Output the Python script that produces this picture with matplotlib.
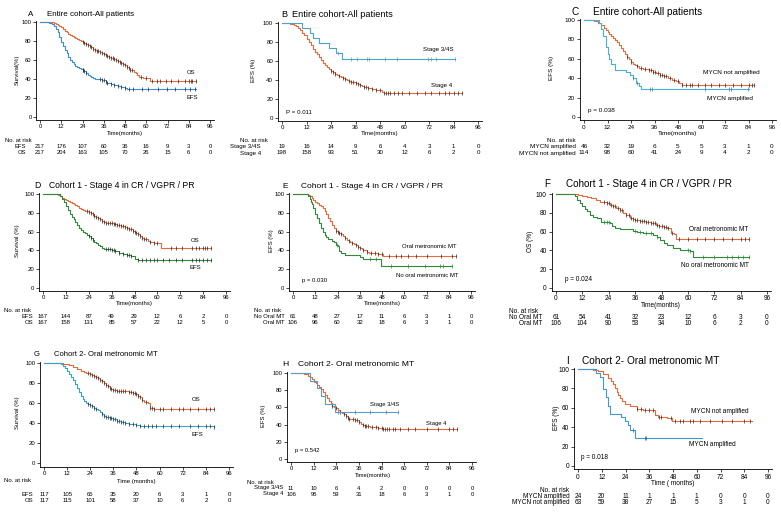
import matplotlib
matplotlib.use("Agg")
import matplotlib.pyplot as plt
from matplotlib import transforms

plt.rcParams['font.family'] = ['Liberation Sans', 'DejaVu Sans']

W, H = 781, 513
ORANGE = "#E66A3C"
DARK = "#2a2a2a"

month_ticks = [0, 12, 24, 36, 48, 60, 72, 84, 96]
pct_ticks = [0, 20, 40, 60, 80, 100]

# ---------------------------------------
# Data (step times in months, survival in %)
# ---------------------------------------

# A - Entire cohort, OS / EFS
a_os_t = [8, 9, 10, 11, 12, 13, 14, 15, 16, 17, 18, 19, 20, 21, 22, 23, 24, 25, 26, 27, 28, 29, 30,
          31, 32, 33, 34, 35, 36, 37, 38, 39, 40, 42, 43, 44, 45, 46, 47, 48, 49, 50, 51, 52, 53,
          54, 55, 56, 58, 62, 88]
a_os_s = [99, 98, 97, 96, 95, 93, 91, 89, 87, 86, 85, 84, 83, 82, 81, 80, 79, 78, 77, 76, 75, 74, 72,
          71, 70, 69, 68, 67, 66, 65, 64, 63, 62, 61, 60, 59, 58, 57, 56, 55, 53, 52, 50, 49, 47,
          46, 44, 42, 41, 38, 38]
a_os_c = [24, 25, 26, 27, 28, 29, 30, 31, 32, 33, 34, 35, 36, 37, 38, 39, 40, 41, 42, 43, 44, 45,
          46, 47, 48, 49, 50, 51, 52, 57, 60, 63, 66, 68, 71, 74, 78, 82, 84, 85, 86, 88]
a_efs_t = [5, 7, 8, 9, 10, 11, 12, 13, 14, 15, 16, 17, 18, 19, 20, 21, 22, 23, 24, 25, 26, 27, 28,
           29, 30, 31, 33, 35, 36, 37, 38, 40, 42, 44, 46, 48, 49, 88]
a_efs_s = [99, 98, 96, 93, 89, 84, 79, 75, 71, 67, 63, 60, 58, 56, 54, 53, 52, 51, 50, 48, 46, 44, 43,
           42, 41, 40, 39.5, 39, 38.5, 37, 36, 35, 34, 33, 32, 30.5, 29.5, 29.5]
a_efs_c = [24, 24.5, 25, 26, 34, 35, 36, 37, 38, 40, 42, 44, 46, 48, 50, 52.7, 57.4, 61.2, 66.9,
           71.6, 76.3, 81.9, 84.7, 87.6]
a_efs_risk = [217, 176, 107, 60, 36, 16, 9, 3, 0]
a_os_risk = [217, 204, 163, 105, 70, 26, 15, 6, 0]

# B - Entire cohort, EFS by stage
b_s3_t = [10, 13.5, 15, 18, 23, 26.5, 29.5, 84.6]
b_s3_s = [95, 89, 84, 79, 74, 68, 62, 62]
b_s3_c = [27.3, 33.7, 36.6, 41.5, 42.8, 50.4, 56.5, 71.3, 72.9, 75.2, 84.6]
b_s4_t = [4, 6, 7, 8, 9, 10, 11, 12, 13, 14, 15, 16, 17, 18, 19, 20, 21, 22, 23, 24, 25, 26, 27, 28,
          29, 30, 31, 32, 33, 34, 35, 36, 37, 38, 39, 40, 42, 44, 46, 48, 49, 50, 88]
b_s4_s = [99, 98, 97, 95, 93, 90, 87, 83, 80, 77, 73, 70, 67, 64, 61, 58, 56, 54, 52, 50, 48, 46, 45,
          44, 43, 42, 41, 40, 39, 38, 37.5, 37, 36, 35, 34, 33, 32, 31, 30, 29, 27, 26.5, 26.5]
b_s4_c = [24, 25, 26, 28, 30, 31, 33, 34, 35, 36, 37, 38, 40, 41, 42, 44, 46, 48, 50, 51, 52, 53, 55,
          57, 59, 62, 66, 70, 73, 77, 80, 82, 84, 86, 88]
b_s3_risk = [19, 16, 14, 9, 6, 4, 3, 1, 0]
b_s4_risk = [198, 158, 93, 51, 30, 12, 6, 2, 0]

# C - Entire cohort, EFS by MYCN
c_amp_t = [7.5, 8.8, 9.7, 11, 12.3, 13, 14, 15.7, 21.6, 23.3, 25, 26.7, 28, 29, 84]
c_amp_s = [97, 91, 84, 72, 65, 60, 55, 48, 46, 43.5, 40, 35, 31.5, 29, 29]
c_amp_c = [25, 27, 33.5, 34.9, 61.6, 73.9, 74.9, 83.7]
c_non_t = [3, 5, 7, 8.5, 10, 11, 12, 13, 14, 15, 16, 17, 18, 19, 20, 21, 22, 23, 24, 25, 26, 27, 28,
           30, 31, 33, 35, 37, 39, 41, 43, 45, 47, 48.5, 50, 87]
c_non_s = [99.5, 99, 97, 95, 92, 90, 88, 86, 83, 81, 79, 77, 74, 71, 68, 65, 62, 60, 57, 55, 54, 53,
           51, 50, 49, 48, 46.5, 45, 43, 42, 40, 38.5, 37, 35, 33.5, 33.5]
c_non_c = [22, 24, 27, 29, 31, 33, 34, 35, 36, 38, 39, 40, 41, 42, 44, 46, 48, 50, 52, 54, 55, 58, 62,
           65, 69, 72, 76, 80, 84, 86, 87]
c_amp_risk = [46, 32, 19, 6, 5, 5, 3, 1, 0]
c_non_risk = [114, 98, 60, 41, 24, 9, 4, 2, 0]

# D - Cohort 1, OS / EFS
d_os_t = [8, 9, 10, 11, 12, 13, 14, 15, 16, 17, 18, 19, 20, 21, 22, 24, 25, 26, 27, 28, 29, 30, 31,
          32, 33, 35, 37, 39, 41, 43, 44, 45, 47, 48, 49, 50, 51, 52, 53, 55, 56, 58, 62, 88]
d_os_s = [99, 98, 96, 95, 94, 93, 92, 90, 89, 88, 87, 85, 84, 83, 82, 81, 80, 79, 77, 76, 75, 73, 71,
          70, 69.5, 69, 68, 67, 66, 65, 64, 63, 61, 60, 58, 57, 55, 53, 52, 50, 49, 47.5, 42.5, 42.5]
d_os_c = [23, 24, 25, 26, 27, 28, 29, 30, 31, 32, 33, 34, 35, 36, 37, 38, 39, 40, 41, 42, 43, 44, 45,
          46, 47, 48, 49, 50, 51, 52, 53, 54, 56, 58, 60, 67, 70, 73, 78, 80, 82, 84, 85, 86, 88]
d_efs_t = [9, 10, 11, 12, 13, 14, 15, 16, 17, 18, 19, 20, 21, 22, 23, 24, 25, 26, 27, 28, 29, 30, 31,
           32, 34, 36, 38, 40, 42, 44, 46, 48, 50, 88]
d_efs_s = [98, 95, 91, 87, 83, 79, 76, 73, 70, 67, 64, 62, 60, 58, 56, 55, 53, 51, 49, 47.5, 46, 44.5,
           43, 42, 41.5, 40.5, 39, 37, 36, 35, 34.5, 31, 30, 30]
d_efs_c = [24, 25, 26, 33, 34, 35, 36, 37, 38, 40, 42, 44, 45, 46, 50, 52, 54, 56, 58, 60, 63, 66, 70,
           73, 78, 80, 82, 84, 86, 88]
d_efs_risk = [167, 144, 87, 49, 29, 12, 6, 2, 0]
d_os_risk = [167, 158, 131, 85, 57, 22, 12, 5, 0]

# E - Cohort 1, EFS by oral metronomic MT
e_mt_t = [8, 9, 10, 11, 12, 13, 14, 15, 16, 17, 18, 19, 20, 21, 22, 23, 24, 25, 26, 27, 28, 29, 30,
          31, 32, 33, 34, 35, 36, 37, 38, 40, 41, 46, 48.5, 88]
e_mt_s = [99, 98, 96, 94, 92, 90, 88, 87, 85, 82, 79, 75, 71, 67, 64, 61, 60, 58, 57, 55, 53, 51, 50,
          49, 48, 47, 46, 44, 43, 41.5, 40, 38, 37, 36.5, 34, 34]
e_mt_c = [23, 24, 25, 26, 28, 30, 32, 34, 35, 36, 38, 40, 42, 44, 46, 48, 52, 55.8, 58.5, 62.1, 66.6,
          72, 80, 86, 88]
e_no_t = [8, 9, 9.5, 10, 11, 12, 13, 14, 15, 16, 17, 18, 19, 21, 22, 23, 24, 25, 26, 28, 34, 36, 38,
          47.7, 85.6]
e_no_s = [98, 95, 92, 89, 85, 79, 74, 69, 64, 60, 56, 54, 52, 50, 48.5, 46, 44.5, 39, 37, 35.5, 35,
          33, 31, 23, 23]
e_no_c = [23.8, 41.4, 45, 52.8, 62, 71.1, 79.3, 81, 85.6]
e_no_risk = [61, 48, 27, 17, 11, 6, 3, 1, 0]
e_mt_risk = [106, 96, 60, 32, 18, 6, 3, 1, 0]

# F - Cohort 1, OS by oral metronomic MT
f_mt_t = [10, 12, 14, 16, 18, 20, 21.5, 23, 24.5, 26, 27.5, 29, 30.5, 32, 33.5, 35, 36, 38, 41, 43,
          45.5, 47, 49, 50.5, 52.5, 53.5, 54.8, 88]
f_mt_s = [99, 98, 97, 96, 94, 92, 91, 90, 88, 87, 85, 83, 80, 78, 75, 73, 72, 71.5, 70, 69, 67, 66,
          65, 64, 59, 57, 52, 52]
f_mt_c = [22, 23, 24, 25, 26, 27, 28, 29, 30, 32, 33, 34, 35, 36, 37, 38, 39, 40, 41, 42, 43, 44, 45,
          46, 47, 48, 49, 50, 51, 53, 56, 60, 64, 68, 72, 76, 80, 84, 86, 88]
f_no_t = [8.6, 9.4, 10.9, 12, 13.2, 14, 15.4, 17, 18.5, 20.7, 24.5, 25.5, 26.8, 29, 35, 37, 39.7, 42,
          44.2, 46, 47.3, 49, 50.3, 53.3, 56.3, 60.9, 62.4, 88]
f_no_s = [98, 94, 90, 87, 84, 82, 78, 76, 74, 70, 69, 66, 64, 63, 61, 60, 59, 58, 56, 54, 51, 48,
          45.5, 43, 40, 39, 33, 33]
f_no_c = [22, 23, 24, 36, 38, 41, 43, 46, 60, 61, 67, 72, 78, 80, 83, 85, 88]
f_no_risk = [61, 54, 41, 32, 23, 12, 6, 3, 0]
f_mt_risk = [106, 104, 90, 53, 34, 10, 6, 2, 0]

# G - Cohort 2, OS / EFS
g_os_t = [10, 12, 13, 15, 17, 19, 21, 22, 24, 25, 26, 27, 28, 29, 30, 31, 32, 33, 34, 35, 36, 38, 42,
          44, 46, 48, 49, 50, 51, 52, 54, 55, 57, 88]
g_os_s = [99.5, 99, 98, 96, 94, 92, 91, 90, 89, 88, 87, 86, 85, 83, 82, 80, 78, 77, 75, 74, 73, 72.5,
          72, 71, 70, 69, 67, 66, 63, 61, 60, 55, 54, 54]
g_os_c = [23, 24, 25, 26, 27, 28, 29, 30, 31, 32, 33, 34, 35, 36, 37, 38, 39, 40, 41, 42, 44, 45, 46,
          47, 48, 49, 50, 51, 53, 55, 56, 57, 60, 62, 66, 70, 72, 76, 80, 84, 86, 88]
g_efs_t = [9, 10, 11, 12, 13, 14, 15, 16, 17, 18, 19, 20, 21, 22, 23, 24, 25, 26, 27, 28, 29, 30, 31,
           32, 34, 36, 38, 40, 42, 44, 46, 48, 50, 88]
g_efs_s = [99, 97, 95, 92, 89, 86, 83, 79, 75, 71, 67, 64, 62, 60.5, 59, 58, 57, 55, 54, 53, 51, 49,
           47.5, 46.5, 45.5, 44, 42.5, 41, 40, 39.5, 39, 38, 37, 36.5]
g_efs_c = [23, 24, 25, 26, 27, 30, 31, 32, 33, 34, 35, 36, 37, 38, 39, 40, 41, 42, 44, 46, 48, 50, 52,
           54, 56, 58, 62, 66, 70, 76, 80, 84, 86, 88]
g_efs_risk = [117, 105, 65, 35, 20, 6, 3, 1, 0]
g_os_risk = [117, 115, 101, 58, 37, 10, 6, 2, 0]

# H - Cohort 2, EFS by stage
h_s3_t = [10.2, 13.8, 16, 18.2, 23.5, 56.6]
h_s3_s = [91, 82, 73, 64, 54.5, 54.5]
h_s3_c = [25, 33.7, 42, 50.5, 56.6]
h_s4_t = [7, 9, 10, 11, 12, 13, 14, 15, 16, 17, 18, 19, 20, 21, 22, 23, 24, 25, 26, 27, 28, 29, 30,
          31, 32, 34, 35, 36, 37, 38, 39, 40, 42, 46, 49, 88]
h_s4_s = [99, 97, 95, 93, 90, 88, 86, 84, 81, 78, 74, 71, 68, 65, 62, 60, 59, 57, 55, 53, 52, 50, 48,
          47, 46.5, 45.5, 45, 43, 41, 40, 38.5, 38, 37, 36.5, 35, 35]
h_s4_c = [22, 24, 26, 28, 29, 30, 31, 33, 34, 35, 36, 38, 39, 40, 41, 43, 45, 46, 48, 49, 50, 51, 52,
          54, 55, 58, 62, 66, 72, 78, 84, 86, 88]
h_s3_risk = [11, 10, 6, 4, 2, 0, 0, 0, 0]
h_s4_risk = [106, 95, 59, 31, 18, 6, 3, 1, 0]

# I - Cohort 2, EFS by MYCN
i_amp_t = [9.3, 11, 12.7, 14, 15.2, 16, 21.5, 23.7, 25.4, 26.2, 28.7, 62.5]
i_amp_s = [96, 92, 79, 71, 62, 54, 50, 46, 42, 37.5, 29, 29]
i_amp_c = [27.9, 33.8, 34.3]
i_non_t = [7.6, 10.1, 12.7, 15.2, 16.9, 17.5, 18.6, 19.5, 20.3, 21, 22, 23.7, 26.2, 29.6, 33, 38.9,
           40.6, 44.8, 47.3, 88]
i_non_s = [99, 98, 95, 91, 88, 85, 80, 76, 73, 70, 67, 64, 62, 59, 58, 53, 50, 49, 46.5, 46.5]
i_non_c = [30, 32, 34, 36, 38, 41, 42, 47, 49, 51.5, 53, 56.6, 58, 61.7, 66.8, 72.7, 77.7, 83.7, 87]
i_amp_risk = [24, 20, 11, 1, 1, 1, 0, 0, 0]
i_non_risk = [63, 59, 38, 27, 15, 5, 3, 1, 0]

# ---------------------------------------
# Helpers
# ---------------------------------------

fig = plt.figure(figsize=(W / 100, H / 100), dpi=100)
fig.patch.set_facecolor("white")

XMIN, XMAX = -2, 98
YMIN, YMAX = -3.5, 101


def fx(x):
    return x / W


def fy(y):
    return 1 - y / H


def step_at(times, surv, t):
    val = 100
    for tt, ss in zip(times, surv):
        if tt <= t:
            val = ss
    return val


def make_ax(x0, x96, y100, y0, fs):
    sx = (x96 - x0) / 96
    sy = (y0 - y100) / 100
    left = x0 + XMIN * sx
    right = x0 + XMAX * sx
    top = y100 - (YMAX - 100) * sy
    bottom = y0 - YMIN * sy
    ax = fig.add_axes([fx(left), fy(bottom), (right - left) / W, (bottom - top) / H])
    ax.set_xlim(XMIN, XMAX)
    ax.set_ylim(YMIN, YMAX)
    ax.spines["top"].set_visible(False)
    ax.spines["right"].set_visible(False)
    ax.spines["left"].set_linewidth(0.6)
    ax.spines["bottom"].set_linewidth(0.6)
    ax.set_xticks(month_ticks)
    ax.set_yticks(pct_ticks)
    ax.tick_params(length=2, width=0.5, pad=1.5, labelsize=fs, direction="out")
    ax.tick_params(axis="x", pad=1.0)
    ax.patch.set_alpha(0)
    return ax


def curve(ax, times, surv, color, cens, ccolor):
    ax.step([0] + times, [100] + surv, where="post", color=color, lw=0.8, clip_on=False)
    cy = [step_at(times, surv, c) for c in cens]
    ax.plot(cens, cy, ls="none", marker="|", ms=2.6, mew=0.5, color=ccolor, clip_on=False)


def risk_table(ax, head, head_x, head_ha, head_y, lab_x, rows, fs):
    fig.text(fx(head_x), fy(head_y), head, ha=head_ha, va="center", fontsize=fs)
    tr = transforms.blended_transform_factory(ax.transData, fig.transFigure)
    for label, nums, y in rows:
        fig.text(fx(lab_x), fy(y), label, ha="right", va="center", fontsize=fs)
        for t, n in zip(month_ticks, nums):
            ax.text(t, fy(y), str(n), transform=tr, ha="center", va="center", fontsize=fs)


def header(letter, lx, tx, y, ts, title):
    fig.text(fx(lx), fy(y), letter, ha="left", va="center", fontsize=ts)
    fig.text(fx(tx), fy(y), title, ha="left", va="center", fontsize=ts)


def axis_titles(ylab, ylx, yly, xlab, xlx, xly, fs):
    fig.text(fx(ylx), fy(yly), ylab, rotation=90, ha="center", va="center", fontsize=fs)
    fig.text(fx(xlx), fy(xly), xlab, ha="center", va="center", fontsize=fs)


# ---------------------------------------
# Panel A
# ---------------------------------------
fs = 4.2
ax = make_ax(40, 210, 22, 117, fs)
curve(ax, a_os_t, a_os_s, ORANGE, a_os_c, DARK)
curve(ax, a_efs_t, a_efs_s, "#3A8FD8", a_efs_c, DARK)
ax.text(85.3, 46.8, "OS", ha="center", va="center", fontsize=fs)
ax.text(85.7, 20.4, "EFS", ha="center", va="center", fontsize=fs)
header("A", 28, 47, 14, 5.8, "Entire cohort-All patients")
axis_titles("Survival(%)", 17, 70, "Time(months)", 125, 133, fs)
risk_table(ax, "No. at risk", 5, "left", 141, 26,
           [("EFS", a_efs_risk, 146.5), ("OS", a_os_risk, 152.5)], fs)

# ---------------------------------------
# Panel B
# ---------------------------------------
fs = 4.4
ax = make_ax(282, 478, 23, 118, fs)
curve(ax, b_s4_t, b_s4_s, ORANGE, b_s4_c, DARK)
curve(ax, b_s3_t, b_s3_s, "#4BA3C8", b_s3_c, "#4BA3C8")
ax.text(76.8, 71.8, "Stage 3/4S", ha="center", va="center", fontsize=fs)
ax.text(78.1, 34.5, "Stage 4", ha="center", va="center", fontsize=fs)
ax.text(2.1, 5.6, "P = 0.011", ha="left", va="center", fontsize=fs)
header("B", 281, 292, 15, 6.6, "Entire cohort-All patients")
axis_titles("EFS (%)", 253, 70, "Time(months)", 380, 134, fs)
risk_table(ax, "No. at risk", 240, "left", 141, 261,
           [("Stage 3/4S", b_s3_risk, 147), ("Stage 4", b_s4_risk, 153)], fs)

# ---------------------------------------
# Panel C
# ---------------------------------------
fs = 4.6
ax = make_ax(584, 772, 20, 117, fs)
curve(ax, c_non_t, c_non_s, ORANGE, c_non_c, DARK)
curve(ax, c_amp_t, c_amp_s, "#4AAEDC", c_amp_c, "#3a7fa8")
ax.text(75.1, 45.7, "MYCN not amplified", ha="center", va="center", fontsize=fs)
ax.text(74.6, 19.2, "MYCN amplified", ha="center", va="center", fontsize=fs)
ax.text(2.0, 6.2, "p = 0.038", ha="left", va="center", fontsize=fs)
header("C", 571, 593, 12, 7.2, "Entire cohort-All patients")
axis_titles("EFS (%)", 552, 68, "Time(months)", 678, 133.5, fs)
risk_table(ax, "No. at risk", 576, "right", 141, 576,
           [("MYCN amplified", c_amp_risk, 147), ("MYCN not amplified", c_non_risk, 153)], fs)

# ---------------------------------------
# Panel D
# ---------------------------------------
fs = 4.3
ax = make_ax(43, 226, 194, 288, fs)
curve(ax, d_os_t, d_os_s, ORANGE, d_os_c, DARK)
curve(ax, d_efs_t, d_efs_s, "#2F8A3C", d_efs_c, DARK)
ax.text(79.9, 50.4, "OS", ha="center", va="center", fontsize=fs)
ax.text(79.7, 22.3, "EFS", ha="center", va="center", fontsize=fs)
header("D", 34, 49, 185, 6.2, "Cohort 1 - Stage 4 in CR / VGPR / PR")
axis_titles("Survival (%)", 17, 241, "Time(months)", 134, 304, fs)
risk_table(ax, "No. at risk", 4, "left", 311, 33,
           [("EFS", d_efs_risk, 317), ("OS", d_os_risk, 323)], fs)

# ---------------------------------------
# Panel E
# ---------------------------------------
fs = 4.3
ax = make_ax(293, 471, 194, 288, fs)
curve(ax, e_mt_t, e_mt_s, ORANGE, e_mt_c, DARK)
curve(ax, e_no_t, e_no_s, "#2F8A3C", e_no_c, "#2F8A3C")
ax.text(73.7, 44, "Oral metronomic MT", ha="center", va="center", fontsize=fs)
ax.text(72.4, 13.8, "No oral metronomic MT", ha="center", va="center", fontsize=fs)
ax.text(5.0, 8.5, "p = 0.030", ha="left", va="center", fontsize=fs)
header("E", 282, 301, 186, 6.0, "Cohort 1 - Stage 4 in CR / VGPR / PR")
axis_titles("EFS (%)", 271, 241, "Time(months)", 382, 304, fs)
risk_table(ax, "No. at risk", 254, "left", 311, 285,
           [("No Oral MT", e_no_risk, 317), ("Oral MT", e_mt_risk, 323)], fs)

# ---------------------------------------
# Panel F
# ---------------------------------------
fs = 4.7
ax = make_ax(556, 767, 194, 288, fs)
curve(ax, f_mt_t, f_mt_s, ORANGE, f_mt_c, DARK)
curve(ax, f_no_t, f_no_s, "#2F8A3C", f_no_c, "#2F8A3C")
ax.text(74.1, 61.8, "Oral metronomic MT", ha="center", va="center", fontsize=fs)
ax.text(72.1, 24.4, "No oral metronomic MT", ha="center", va="center", fontsize=fs)
ax.text(4.1, 9.5, "p = 0.024", ha="left", va="center", fontsize=fs)
header("F", 544, 566, 184, 7.1, "Cohort 1 - Stage 4 in CR / VGPR / PR")
axis_titles("OS (%)", 531, 241, "Time(months)", 661, 305.5, fs)
risk_table(ax, "No. at risk", 509, "left", 311.5, 542,
           [("No Oral MT", f_no_risk, 317.5), ("Oral MT", f_mt_risk, 323.5)], fs)

# ---------------------------------------
# Panel G
# ---------------------------------------
fs = 4.3
ax = make_ax(44, 229, 363, 463, fs)
curve(ax, g_os_t, g_os_s, ORANGE, g_os_c, DARK)
curve(ax, g_efs_t, g_efs_s, "#35A2CF", g_efs_c, DARK)
ax.text(78.7, 63.6, "OS", ha="center", va="center", fontsize=fs)
ax.text(79.4, 28.1, "EFS", ha="center", va="center", fontsize=fs)
header("G", 34, 54, 354, 5.5, "Cohort 2- Oral metronomic MT")
axis_titles("Survival (%)", 17, 413, "Time (months)", 136, 481, fs)
risk_table(ax, "No. at risk", 4, "left", 481, 33,
           [("EFS", g_efs_risk, 495), ("OS", g_os_risk, 501)], fs)

# ---------------------------------------
# Panel H
# ---------------------------------------
fs = 4.2
ax = make_ax(291, 472, 373, 459, fs)
curve(ax, h_s4_t, h_s4_s, ORANGE, h_s4_c, DARK)
curve(ax, h_s3_t, h_s3_s, "#5A9EC4", h_s3_c, "#5A7E94")
ax.text(49.4, 63.6, "Stage 3/4S", ha="center", va="center", fontsize=fs)
ax.text(77, 41, "Stage 4", ha="center", va="center", fontsize=fs)
ax.text(2.3, 10.1, "p = 0.542", ha="left", va="center", fontsize=fs)
header("H", 282, 298, 364, 6.1, "Cohort 2- Oral metronomic MT")
axis_titles("EFS (%)", 264, 416, "Time(months)", 373, 476, fs)
risk_table(ax, "No. at risk", 247, "left", 482, 283,
           [("Stage 3/4S", h_s3_risk, 488), ("Stage 4", h_s4_risk, 494)], fs)

# ---------------------------------------
# Panel I
# ---------------------------------------
fs = 4.7
ax = make_ax(578, 768, 369, 466, fs)
curve(ax, i_non_t, i_non_s, ORANGE, i_non_c, DARK)
curve(ax, i_amp_t, i_amp_s, "#3C9AD2", i_amp_c, "#2a5f80")
ax.text(71.5, 55.7, "MYCN not amplified", ha="center", va="center", fontsize=fs)
ax.text(67.8, 22, "MYCN amplified", ha="center", va="center", fontsize=fs)
ax.text(1.4, 8.6, "p = 0.018", ha="left", va="center", fontsize=fs)
header("I", 566, 582, 361, 7.3, "Cohort 2- Oral metronomic MT")
axis_titles("EFS (%)", 557, 418, "Time ( months)", 673, 483.5, fs)
risk_table(ax, "No. at risk", 569, "right", 490, 570,
           [("MYCN amplified", i_amp_risk, 496), ("MYCN not amplified", i_non_risk, 502.5)], fs)

plt.savefig("out.png", dpi=100)
print("saved out.png")
